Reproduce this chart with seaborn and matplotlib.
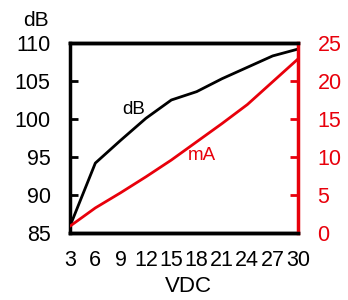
import matplotlib
matplotlib.use("Agg")
import matplotlib.pyplot as plt
import seaborn as sns
import pandas as pd

vdc = [3, 6, 9, 12, 15, 18, 21, 24, 27, 30]
db = [85.9, 94.2, 97.2, 100.1, 102.5, 103.6, 105.3, 106.8, 108.3, 109.2]
ma = [0.9, 3.3, 5.3, 7.4, 9.6, 12.0, 14.4, 16.9, 19.9, 22.9]
xticks = vdc
db_ticks = [85, 90, 95, 100, 105, 110]
ma_ticks = [0, 5, 10, 15, 20, 25]

df = pd.DataFrame({"VDC": vdc, "dB": db, "mA": ma})

sns.set_style("white")
plt.rcParams["font.family"] = ["Liberation Sans", "DejaVu Sans"]
plt.rcParams["text.color"] = "black"
RED = "#e8000b"

fig = plt.figure(figsize=(3.48, 3.0), dpi=100)
ax = fig.add_axes([70/348, 1-233/300, 228/348, 190/300])
ax2 = ax.twinx()

sns.lineplot(data=df, x="VDC", y="dB", ax=ax, color="black", linewidth=2)
sns.lineplot(data=df, x="VDC", y="mA", ax=ax2, color=RED, linewidth=2)

ax.set_xlim(3, 30)
ax.set_ylim(85, 110)
ax2.set_ylim(0, 25)
ax.set_xticks(xticks)
ax.set_xticklabels([str(v) for v in xticks])
ax.set_yticks(db_ticks)
ax2.set_yticks(ma_ticks)

for a in (ax, ax2):
    for s in a.spines.values():
        s.set_linewidth(2.5)
        s.set_color("black")
ax2.spines["right"].set_color(RED)
ax.spines["right"].set_visible(False)
ax2.spines["left"].set_visible(False)

FS = 15.5
ax.tick_params(axis="y", direction="in", length=6, width=2, labelsize=FS, pad=14, colors="black")
ax.tick_params(axis="x", direction="in", length=6, width=2, labelsize=FS, pad=12, colors="black")
ax2.tick_params(axis="y", direction="in", length=6, width=2, labelsize=FS, pad=14, colors=RED)

ax.set_ylabel("")
ax2.set_ylabel("")
ax.set_xlabel("VDC", fontsize=16, color="black", va="center")
ax.xaxis.set_label_coords((188 - 70) / 228, -(287 - 233) / 190)
fig.text(36/348, 1-21/300, "dB", ha="center", va="center", fontsize=15)
ax.text(10.6, 101.3, "dB", ha="center", va="center", fontsize=13.5)
ax2.text(18.6, 10.2, "mA", ha="center", va="center", fontsize=13.5, color=RED)

fig.savefig("out.png", dpi=100)
